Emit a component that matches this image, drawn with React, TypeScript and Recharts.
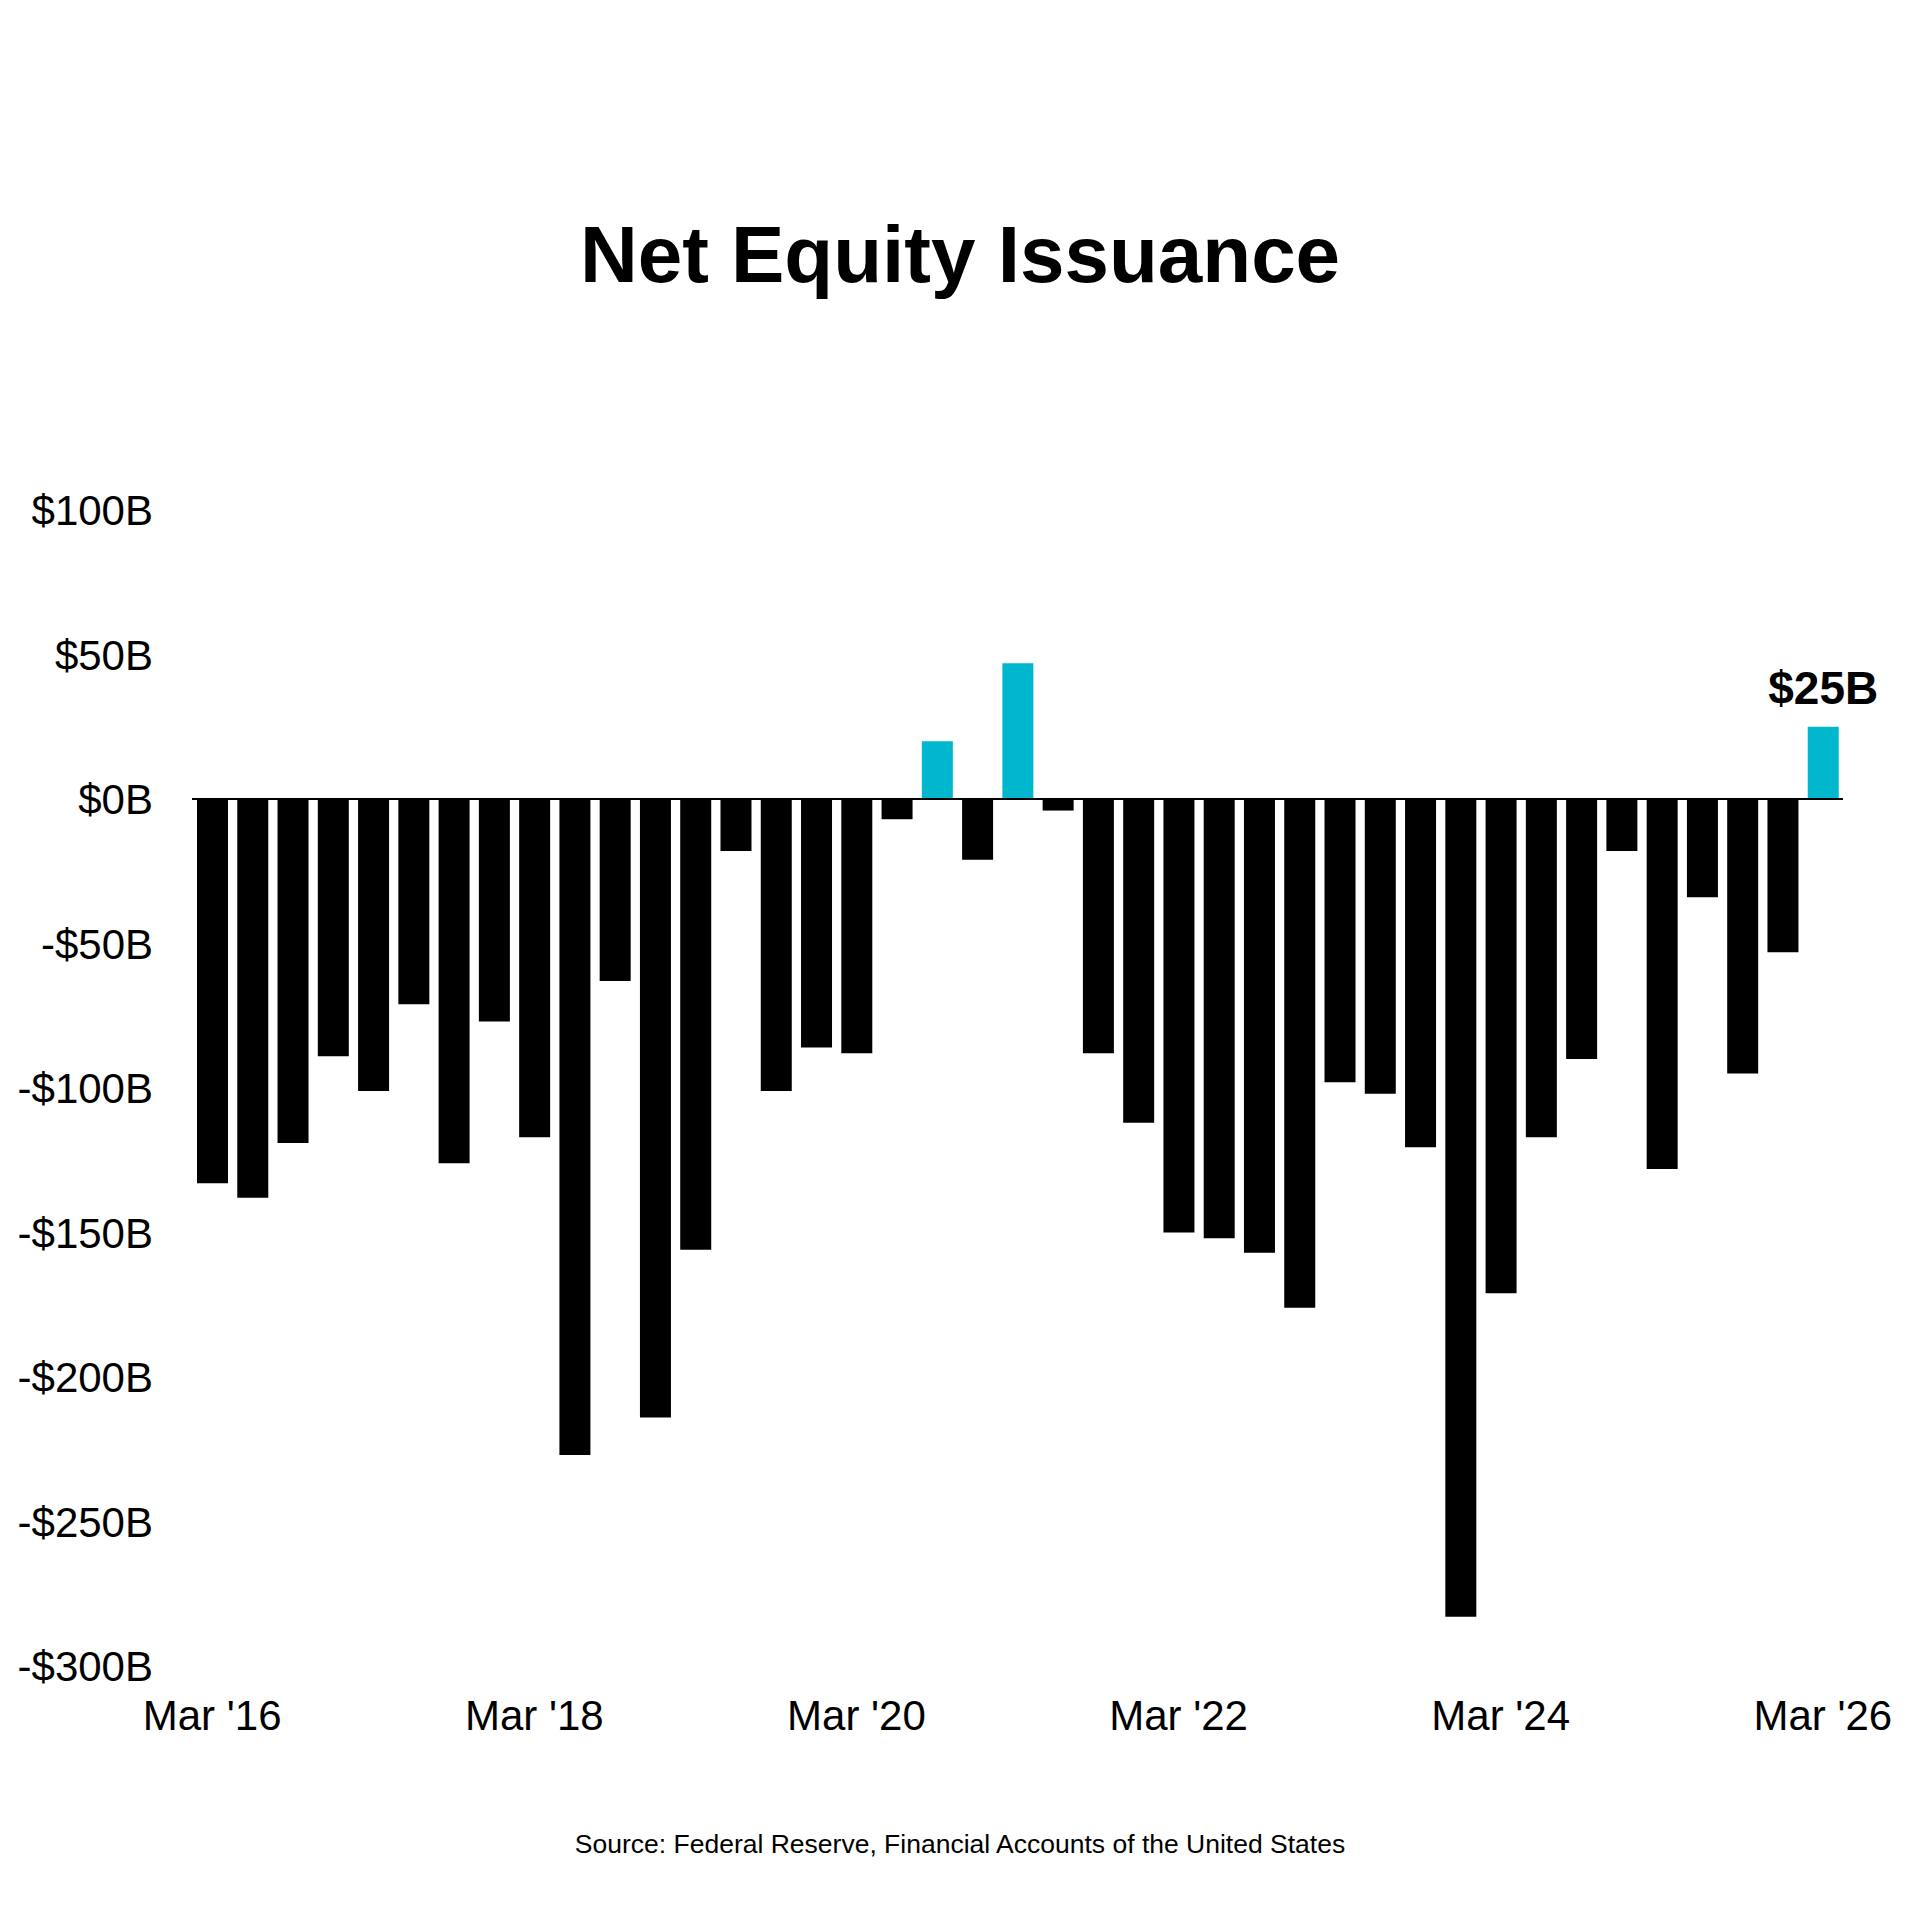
import React from "react";
import { BarChart, Bar, XAxis, YAxis, Cell, ReferenceLine, LabelList } from "recharts";

const quarters: string[] = [
  "Mar '16", "Jun '16", "Sep '16", "Dec '16",
  "Mar '17", "Jun '17", "Sep '17", "Dec '17",
  "Mar '18", "Jun '18", "Sep '18", "Dec '18",
  "Mar '19", "Jun '19", "Sep '19", "Dec '19",
  "Mar '20", "Jun '20", "Sep '20", "Dec '20",
  "Mar '21", "Jun '21", "Sep '21", "Dec '21",
  "Mar '22", "Jun '22", "Sep '22", "Dec '22",
  "Mar '23", "Jun '23", "Sep '23", "Dec '23",
  "Mar '24", "Jun '24", "Sep '24", "Dec '24",
  "Mar '25", "Jun '25", "Sep '25", "Dec '25",
  "Mar '26",
];

const issuance: number[] = [
  -133, -138, -119, -89,
  -101, -71, -126, -77,
  -117, -227, -63, -214,
  -156, -18, -101, -86,
  -88, -7, 20, -21,
  47, -4, -88, -112,
  -150, -152, -157, -176,
  -98, -102, -120.5, -283,
  -171, -117, -90, -18,
  -128, -34, -95, -53,
  25,
];

const yTicks: number[] = [100, 50, 0, -50, -100, -150, -200, -250, -300];

const TITLE = "Net Equity Issuance";
const SOURCE = "Source: Federal Reserve, Financial Accounts of the United States";

const POS_COLOR = "#00B7CE";
const NEG_COLOR = "#000000";
const FONT = "'Liberation Sans', Arial, Helvetica, sans-serif";

const data = quarters.map((q, i) => ({ quarter: q, value: issuance[i] }));

const fmtY = (v: number) => (v < 0 ? `-$${-v}B` : `$${v}B`);

const XTick = (props: any) => {
  const { x, y, payload } = props;
  return (
    <text x={x} y={y + 64} textAnchor="middle" fontFamily={FONT} fontSize={42} fill="#000">
      {payload.value}
    </text>
  );
};

const YTick = (props: any) => {
  const { x, y, payload } = props;
  return (
    <text x={x} y={y + 15} textAnchor="end" fontFamily={FONT} fontSize={42} fill="#000">
      {fmtY(payload.value)}
    </text>
  );
};

const LastLabel = (props: any) => {
  const { x, y, width, value, index } = props;
  if (index !== data.length - 1) return null;
  return (
    <text
      x={Number(x) + Number(width) / 2}
      y={Number(y) - 23}
      textAnchor="middle"
      fontFamily={FONT}
      fontSize={46}
      fontWeight="bold"
      fill="#000"
    >
      {`$${value}B`}
    </text>
  );
};

export default function App() {
  return (
    <div style={{ position: "absolute", left: 0, top: 0, width: 1920, height: 1920, background: "#fff" }}>
      <BarChart
        width={1920}
        height={1920}
        data={data}
        margin={{ top: 510, right: 77, bottom: 154, left: 0 }}
      >
        <XAxis
          dataKey="quarter"
          type="category"
          interval={7}
          tickLine={false}
          axisLine={false}
          tickSize={0}
          tickMargin={0}
          height={100}
          tick={<XTick />}
        />
        <YAxis
          type="number"
          domain={[-300, 100]}
          ticks={yTicks}
          width={192}
          tickLine={false}
          axisLine={false}
          tickSize={0}
          tickMargin={39}
          tick={<YTick />}
          allowDataOverflow
        />
        <Bar dataKey="value" barSize={31} isAnimationActive={false}>
          {data.map((d, i) => (
            <Cell key={i} fill={d.value > 0 ? POS_COLOR : NEG_COLOR} />
          ))}
          <LabelList dataKey="value" content={<LastLabel />} />
        </Bar>
        <ReferenceLine y={0} stroke="#000" strokeWidth={2} ifOverflow="extendDomain" />
      </BarChart>
      <svg
        width={1920}
        height={1920}
        style={{ position: "absolute", left: 0, top: 0, pointerEvents: "none" }}
      >
        <text x={960} y={282} textAnchor="middle" fontFamily={FONT} fontSize={80} fontWeight="bold" fill="#000">
          {TITLE}
        </text>
        <text x={960} y={1853} textAnchor="middle" fontFamily={FONT} fontSize={26.5} fill="#000">
          {SOURCE}
        </text>
      </svg>
    </div>
  );
}
